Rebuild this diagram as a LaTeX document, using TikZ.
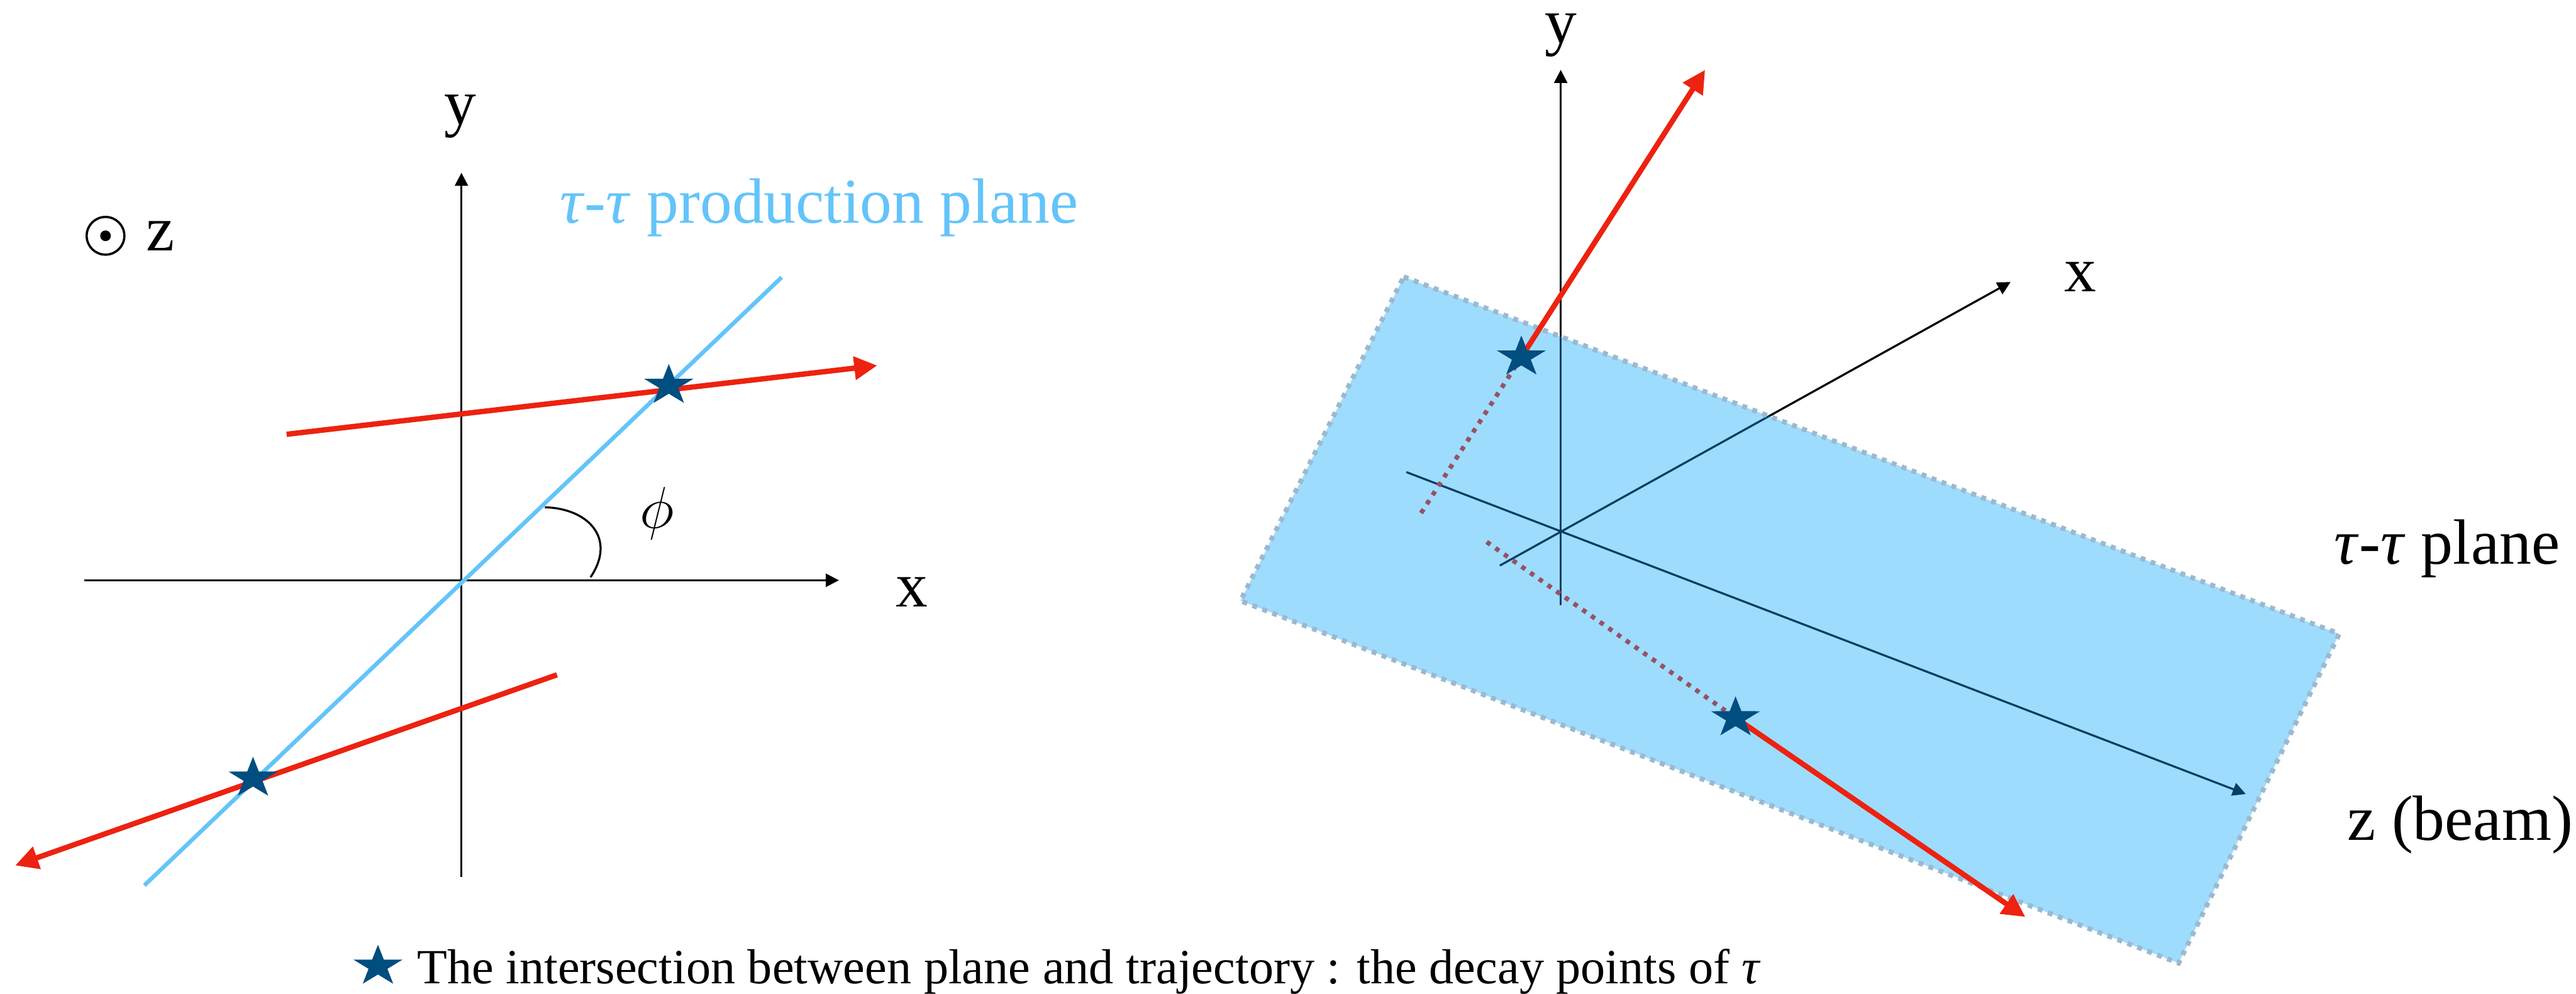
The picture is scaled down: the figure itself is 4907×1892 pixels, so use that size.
\documentclass[tikz,border=0pt]{standalone}
\usepackage{fontspec}
\setmainfont{Liberation Serif}
\usetikzlibrary{arrows.meta,shapes.geometric}
\definecolor{trackred}{RGB}{237,34,16}
\definecolor{planeblue}{RGB}{99,196,250}
\definecolor{starblue}{RGB}{0,77,128}
\definecolor{sheetblue}{RGB}{158,220,253}
\definecolor{sheetedge}{RGB}{157,184,207}
\definecolor{axisnavy}{RGB}{5,62,98}
\definecolor{hiddenred}{RGB}{150,82,102}

\begin{document}
\begin{tikzpicture}[x=0.0045cm,y=-0.0045cm,
 axisline/.style={line width=0.5pt,-{Triangle[length=3.2pt,width=3.2pt]}},
 trackline/.style={trackred,line width=1.3pt,-{Triangle[length=5.6pt,width=5.5pt]}},
 hiddenline/.style={hiddenred,line width=1.1pt,dash pattern=on 1.1pt off 1.5pt},
 lbl/.style={font=\fontsize{15.6}{18}\selectfont,inner sep=0pt},
 decaypt/.style={star,star points=5,star point ratio=2.6,fill=starblue,
   inner sep=0pt,minimum size=10.5pt,xscale=1.2,transform shape}]
\useasboundingbox (0,0) rectangle (4907,1892);

\coordinate (lxa) at (160,1105);
\coordinate (lxb) at (1598,1105);
\coordinate (lya) at (879,1670);
\coordinate (lyb) at (879,329);
\coordinate (pla) at (275,1686);
\coordinate (plb) at (1489,528);
\coordinate (t1a) at (546,827);
\coordinate (t1b) at (1671,696);
\coordinate (t2a) at (1061,1285);
\coordinate (t2b) at (29,1648);
\coordinate (phia) at (1038,966);
\coordinate (phib) at (1125,1099);
\draw[axisline] (lxa) -- (lxb);
\draw[axisline] (lya) -- (lyb);
\draw[planeblue,line width=1pt] (pla) -- (plb);
\draw[trackline] (t1a) -- (t1b);
\draw[trackline] (t2a) -- (t2b);
\draw[line width=0.5pt] (phia) .. controls (1120,968) and (1175,1025) .. (phib);
\node[decaypt] (s1) at (1274,734) {};
\node[decaypt] (s2) at (482,1482) {};
\node[lbl,anchor=base] (ly) at (877,236) {y};
\node[lbl,anchor=base] (lx) at (1737,1155) {x};
\node[lbl,anchor=base] (lz) at (305,477) {z};
\node[circle,draw,line width=0.55pt,minimum size=9.2pt,inner sep=0pt] (zdir) at (201,449) {};
\fill (zdir.center) circle[radius=1.3pt];
\node[lbl,anchor=base west,text=planeblue] (plbl) at (1065,425)
 {\textit{τ}-\textit{τ} production plane};
\node[lbl] (phi) at (1252,977) {$\phi$};

\coordinate (rya) at (2973,1152);
\coordinate (ryb) at (2973,133);
\coordinate (rxa) at (2857,1077);
\coordinate (rxb) at (3830,537);
\coordinate (rza) at (2679,899);
\coordinate (rzb) at (4278,1512);
\coordinate (c1) at (2674,527);
\coordinate (c2) at (4456,1207);
\coordinate (c3) at (4150,1834);
\coordinate (c4) at (2363,1144);
\coordinate (p3) at (2898,680);
\coordinate (p4) at (3306,1367);
\coordinate (h3) at (2707,977);
\coordinate (h4) at (2832,1032);
\coordinate (t3) at (3248,133);
\coordinate (t4) at (3858,1746);
\draw[axisline] (rya) -- (ryb);
\draw[axisline] (rxa) -- (rxb);
\draw[axisline] (rza) -- (rzb);
\fill[sheetblue] (c1) -- (c2) -- (c3) -- (c4) -- cycle;
\begin{scope}
\clip (c1) -- (c2) -- (c3) -- (c4) -- cycle;
\draw[axisline,axisnavy] (rya) -- (ryb);
\draw[axisline,axisnavy] (rxa) -- (rxb);
\draw[axisline,axisnavy] (rza) -- (rzb);
\end{scope}
\draw[hiddenline] (h3) -- (p3);
\draw[hiddenline] (h4) -- (p4);
\draw[sheetedge,line width=1.2pt,dash pattern=on 1.2pt off 1.4pt] (c1) -- (c2) -- (c3) -- (c4) -- cycle;
\draw[trackline] (p3) -- (t3);
\draw[trackline] (p4) -- (t4);
\node[decaypt] (s3) at (p3) {};
\node[decaypt] (s4) at (p4) {};
\node[lbl,anchor=base] (ry) at (2973,82) {y};
\node[lbl,anchor=base] (rx) at (3963,555) {x};
\node[lbl,anchor=base west] (sheet) at (4445,1074) {\textit{τ}-\textit{τ} plane};
\node[lbl,anchor=base west] (beam) at (4470,1600) {z (beam)};

\node[decaypt] (key) at (720,1840) {};
\node[font=\fontsize{12}{14}\selectfont,anchor=base west,inner sep=0pt] (keytext) at (793,1873)
 {The intersection between plane and trajectory : the decay points of \textit{τ}};
\end{tikzpicture}
\end{document}
